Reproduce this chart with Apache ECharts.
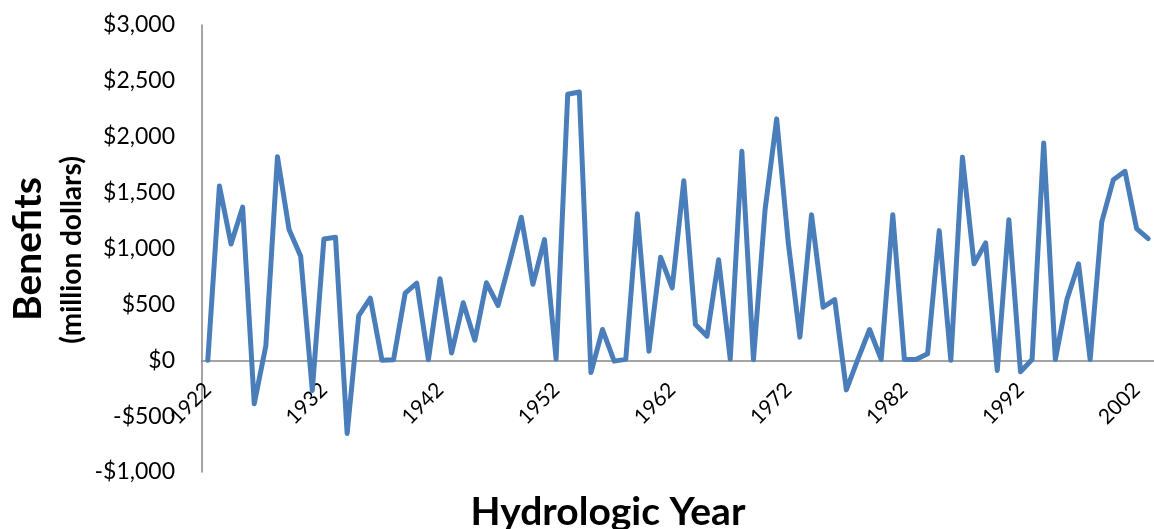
<!DOCTYPE html>
<html>
<head>
<meta charset="utf-8">
<script src="https://cdn.jsdelivr.net/npm/echarts@6/dist/echarts.min.js"></script>
<style>
html,body{margin:0;padding:0;background:#fff;}
#chart{width:1154px;height:529px;}
</style>
</head>
<body>
<div id="chart"></div>
<script>
const years = [];
for (let y = 1922; y <= 2003; y++) years.push(String(y));

const benefits = [
  0, 1560, 1040, 1370, -390, 130, 1820, 1170, 930, -270,
  1085, 1100, -655, 400, 555, 0, 5, 600, 690, 5,
  730, 65, 515, 180, 693, 490, 880, 1280, 680, 1080,
  10, 2380, 2400, -110, 275, -8, 8, 1310, 80, 922,
  648, 1607, 320, 216, 900, 10, 1870, 5, 1348, 2160,
  1050, 207, 1303, 475, 543, -265, 10, 275, 7, 1303,
  7, 7, 58, 1160, 0, 1816, 863, 1050, -91, 1258,
  -103, 7, 1944, 7, 543, 863, 7, 1238, 1616, 1691,
  1178, 1089
];

const yTitle = 'Benefits';
const ySubTitle = '(million dollars)';
const xTitle = 'Hydrologic Year';

const FONT = 'Lato';
const GRID_TOP = 25, GRID_BOTTOM = 57, H = 529;
const Y_MIN = -1000, Y_MAX = 3000;

function money(v) {
  const a = Math.abs(v).toString().replace(/\B(?=(\d{3})+(?!\d))/g, ',');
  return (v < 0 ? '-$' : '$') + a;
}

// Offset to move the category axis (line + labels) up to the zero line
const plotH = H - GRID_TOP - GRID_BOTTOM;
const zeroOffset = -plotH * (0 - Y_MIN) / (Y_MAX - Y_MIN);

const chart = echarts.init(document.getElementById('chart'), null, {renderer: 'canvas'});
chart.setOption({
  animation: false,
  backgroundColor: '#ffffff',
  grid: {left: 202, right: -3, top: GRID_TOP, bottom: GRID_BOTTOM, containLabel: false},
  xAxis: {
    type: 'category',
    data: years,
    boundaryGap: true,
    offset: zeroOffset,
    axisLine: {onZero: false, lineStyle: {color: '#868686', width: 1.5}},
    axisTick: {show: false},
    axisLabel: {
      interval: 9,
      rotate: 45,
      margin: 26,
      color: '#000',
      fontFamily: FONT,
      fontSize: 21
    },
    splitLine: {show: false}
  },
  yAxis: {
    type: 'value',
    min: Y_MIN,
    max: Y_MAX,
    interval: 500,
    axisLine: {show: true, lineStyle: {color: '#868686', width: 1.5}},
    axisTick: {show: false},
    splitLine: {show: false},
    axisLabel: {
      margin: 27,
      color: '#000',
      fontFamily: FONT,
      fontSize: 23,
      formatter: money
    }
  },
  graphic: [
    {
      type: 'text',
      x: 28, y: 249,
      rotation: Math.PI / 2,
      style: {text: yTitle, font: 'bold 39px ' + FONT, fill: '#000', align: 'center', verticalAlign: 'middle'}
    },
    {
      type: 'text',
      x: 72, y: 250,
      rotation: Math.PI / 2,
      style: {text: ySubTitle, font: 'bold 28px ' + FONT, fill: '#000', align: 'center', verticalAlign: 'middle'}
    },
    {
      type: 'text',
      x: 608, y: 512,
      style: {text: xTitle, font: 'bold 39px ' + FONT, fill: '#000', align: 'center', verticalAlign: 'middle'}
    }
  ],
  series: [{
    type: 'line',
    data: benefits,
    symbol: 'none',
    smooth: false,
    lineStyle: {color: '#4a7ebb', width: 5, cap: 'round', join: 'round'}
  }]
});
</script>
</body>
</html>
